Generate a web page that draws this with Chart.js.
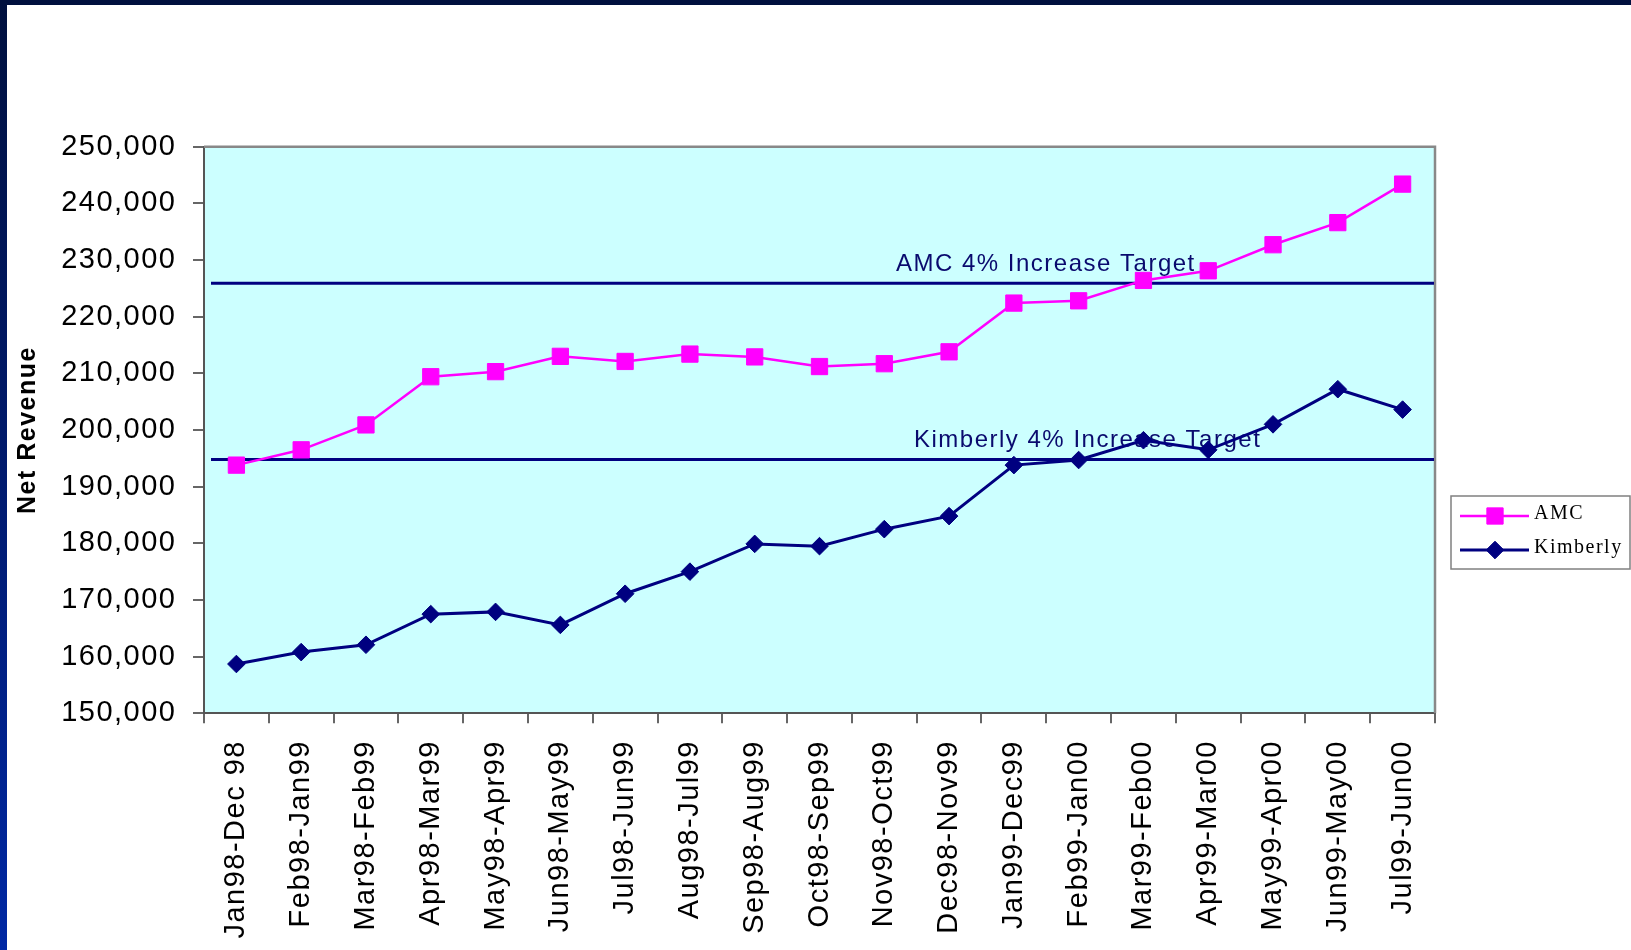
<!DOCTYPE html>
<html><head><meta charset="utf-8">
<script src="https://cdn.jsdelivr.net/npm/chart.js@4.4.1/dist/chart.umd.min.js"></script>
<style>
html,body{margin:0;padding:0;width:1631px;height:950px;overflow:hidden;
  background:linear-gradient(to bottom,#00103e 0%,#001a6e 50%,#0028a4 100%);}
#wrap{position:absolute;left:7px;top:5px;width:1624px;height:945px;background:#fff;}
canvas{display:block;}
</style></head><body>
<div id="wrap"><canvas id="c" width="1624" height="945"></canvas></div>
<script>
// ---- data ----
const categories = ["Jan98-Dec 98","Feb98-Jan99","Mar98-Feb99","Apr98-Mar99","May98-Apr99","Jun98-May99","Jul98-Jun99","Aug98-Jul99","Sep98-Aug99","Oct98-Sep99","Nov98-Oct99","Dec98-Nov99","Jan99-Dec99","Feb99-Jan00","Mar99-Feb00","Apr99-Mar00","May99-Apr00","Jun99-May00","Jul99-Jun00"];
const amcValues = [193800,196500,200900,209400,210300,213000,212100,213400,212900,211200,211700,213800,222400,222800,226400,228100,232700,236600,243400];
const kimberlyValues = [158700,160800,162100,167500,167900,165600,171100,175000,179900,179500,182500,184800,193800,194700,198200,196500,201000,207200,203600];
const seriesNames = ["AMC","Kimberly"];
const targetValues = [225900,194800];
const targetLabels = ["AMC 4% Increase Target","Kimberly 4% Increase Target"];
const yMin = 150000, yMax = 250000, yStep = 10000;
const yTitle = "Net Revenue";

// ---- styling ----
const SPACING = '1.5px';
const NAVY = '#000080';
const MAGENTA = '#ff00ff';
const targetLabelOffsets = [692, 710]; // px from plot left

const spacingPlugin = {
  id: 'spacing',
  beforeUpdate(chart){ chart.ctx.letterSpacing = SPACING; },
  beforeLayout(chart){ chart.ctx.letterSpacing = SPACING; },
  beforeDraw(chart){
    const {ctx, chartArea:a} = chart;
    ctx.letterSpacing = SPACING;
    ctx.save();
    ctx.fillStyle = '#ccffff';
    ctx.fillRect(a.left, a.top, a.right - a.left, a.bottom - a.top);
    ctx.restore();
  },
  beforeDatasetsDraw(chart){
    const {ctx, chartArea:a, scales:{y}} = chart;
    ctx.save();
    ctx.strokeStyle = '#888888';
    ctx.lineWidth = 2.5;
    ctx.beginPath();
    ctx.moveTo(a.left, a.top); ctx.lineTo(a.right, a.top); ctx.lineTo(a.right, a.bottom);
    ctx.stroke();
    targetValues.forEach((v, i) => {
      const py = y.getPixelForValue(v);
      ctx.strokeStyle = NAVY;
      ctx.lineWidth = 3;
      ctx.beginPath();
      ctx.moveTo(a.left + 7, py); ctx.lineTo(a.right - 1, py);
      ctx.stroke();
      ctx.fillStyle = '#0a0a6e';
      ctx.font = '24px "Liberation Sans", Arial, sans-serif';
      ctx.textAlign = 'left';
      ctx.textBaseline = 'alphabetic';
      ctx.fillText(targetLabels[i], a.left + targetLabelOffsets[i], py - 12.5);
    });
    ctx.restore();
  },
  afterDraw(chart){
    const ctx = chart.ctx;
    const bx = 1444, by = 491, bw = 179, bh = 73;
    ctx.save();
    ctx.fillStyle = '#fff';
    ctx.fillRect(bx, by, bw, bh);
    ctx.strokeStyle = '#808080';
    ctx.lineWidth = 1.5;
    ctx.strokeRect(bx, by, bw, bh);
    chart.data.datasets.forEach((ds, i) => {
      const cy = by + 20 + i * 34;
      ctx.strokeStyle = ds.borderColor;
      ctx.lineWidth = ds.borderWidth;
      ctx.beginPath();
      ctx.moveTo(bx + 9, cy); ctx.lineTo(bx + 78, cy);
      ctx.stroke();
      const cx = bx + 44;
      ctx.fillStyle = ds.pointBackgroundColor;
      ctx.beginPath();
      if (ds.pointStyle === 'rect') {
        const s = ds.pointRadius * Math.SQRT1_2;
        ctx.rect(cx - s, cy - s, 2 * s, 2 * s);
      } else {
        const r = ds.pointRadius;
        ctx.moveTo(cx - r, cy); ctx.lineTo(cx, cy - r); ctx.lineTo(cx + r, cy); ctx.lineTo(cx, cy + r);
        ctx.closePath();
      }
      ctx.fill();
      ctx.lineWidth = 1;
      ctx.stroke();
      ctx.fillStyle = '#000';
      ctx.font = '20px "Liberation Serif", "Times New Roman", serif';
      ctx.textAlign = 'left';
      ctx.textBaseline = 'alphabetic';
      ctx.fillText(ds.label, bx + 83, cy + 3);
    });
    ctx.restore();
  }
};

const tickFont = {family: '"Liberation Sans", Arial, sans-serif', size: 29};

new Chart(document.getElementById('c'), {
  type: 'line',
  data: {
    labels: categories,
    datasets: [
      {label: seriesNames[0], data: amcValues, borderColor: MAGENTA, backgroundColor: MAGENTA,
       pointBackgroundColor: MAGENTA, pointBorderColor: MAGENTA, borderWidth: 2.5,
       pointStyle: 'rect', pointRadius: 11.5, pointBorderWidth: 1, tension: 0, fill: false},
      {label: seriesNames[1], data: kimberlyValues, borderColor: NAVY, backgroundColor: NAVY,
       pointBackgroundColor: NAVY, pointBorderColor: NAVY, borderWidth: 3,
       pointStyle: 'rectRot', pointRadius: 8.8, pointBorderWidth: 1, tension: 0, fill: false}
    ]
  },
  options: {
    responsive: false,
    animation: false,
    devicePixelRatio: 1,
    events: [],
    layout: {padding: {top: 141.7, right: 196, left: 0, bottom: 0}},
    plugins: {legend: {display: false}, tooltip: {enabled: false}, title: {display: false}},
    scales: {
      x: {
        type: 'category',
        offset: true,
        afterFit(s){ s.height = 236.7; },
        grid: {offset: true, drawOnChartArea: false, drawTicks: true, tickLength: 10, color: '#666', lineWidth: 2},
        border: {color: '#555', width: 2},
        ticks: {font: tickFont, color: '#000', minRotation: 90, maxRotation: 90, autoSkip: false, padding: 16.7}
      },
      y: {
        min: yMin, max: yMax,
        afterFit(s){ s.width = 197; },
        grid: {drawOnChartArea: false, drawTicks: true, tickLength: 11, color: '#666', lineWidth: 2},
        border: {color: '#555', width: 2},
        ticks: {font: tickFont, color: '#000', stepSize: yStep, padding: 16.5,
          callback: v => Number(v).toLocaleString('en-US')},
        title: {display: true, text: yTitle, color: '#000',
          font: {family: '"Liberation Sans", Arial, sans-serif', size: 25, weight: 'bold'},
          padding: {top: 6.5, bottom: 0}}
      }
    }
  },
  plugins: [spacingPlugin]
});
</script>
</body></html>
